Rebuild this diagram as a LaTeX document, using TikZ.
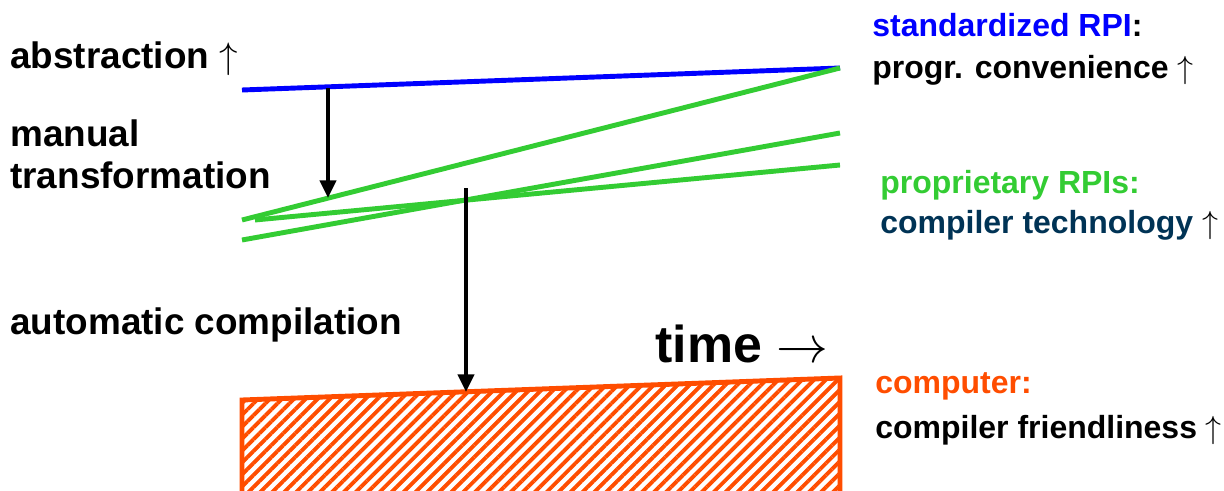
\RequirePackage{fix-cm}
\documentclass[tikz,border=0pt]{standalone}
\usepackage{fontspec}
\setmainfont{Liberation Sans}
\usetikzlibrary{arrows.meta,patterns.meta}
\definecolor{rpiblue}{RGB}{0,0,255}
\definecolor{rpigreen}{RGB}{51,204,51}
\definecolor{hwred}{RGB}{255,77,0}
\definecolor{technavy}{RGB}{0,51,85}
\begin{document}
\begin{tikzpicture}[
        txt/.style={anchor=base west, inner sep=0pt, font=\fontsize{21}{25}\selectfont\bfseries},
        side/.style={anchor=base west, inner sep=0pt, font=\fontsize{18.2}{22}\selectfont\bfseries},
        level/.style={line width=2.8pt},
        down/.style={line width=2.5pt, -{Triangle[length=10pt,width=9pt]}}
    ]
        \useasboundingbox (0,0) rectangle (24.48,9.8);

        \coordinate (std0) at (4.84,8.0);
        \coordinate (std1) at (16.8,8.44);
        \coordinate (pa0) at (4.84,5.4);
        \coordinate (pb0) at (4.84,5.0);
        \coordinate (pb1) at (16.8,7.14);
        \coordinate (pc0) at (5.1,5.4);
        \coordinate (pc1) at (16.8,6.5);
        \coordinate (man0) at (6.56,8.04);
        \coordinate (man1) at (6.56,5.84);
        \coordinate (cmp0) at (9.32,6.04);
        \coordinate (cmp1) at (9.32,1.96);

        \node[txt] (abs) at (0.2,8.44) {abstraction $\uparrow$};
        \node[txt] (man) at (0.2,6.88) {manual};
        \node[txt] (trf) at (0.2,6.04) {transformation};
        \node[txt] (auto) at (0.2,3.12) {automatic compilation};
        \node[anchor=base west, inner sep=0pt, font=\fontsize{29.5}{34}\selectfont\bfseries] (time) at (13.1,2.56) {time $\rightarrow$};

        \node[side] (std) at (17.44,9.08) {\textcolor{rpiblue}{standardized RPI}:};
        \node[side] (conv) at (17.44,8.24) {progr. convenience $\uparrow$};
        \node[side, rpigreen] (prop) at (17.6,5.94) {proprietary RPIs:};
        \node[side, technavy] (tech) at (17.6,5.14) {compiler technology \textcolor{black}{$\uparrow$}};
        \node[side, hwred] (hw) at (17.5,1.94) {computer:};
        \node[side] (frnd) at (17.5,1.04) {compiler friendliness $\uparrow$};

        % computer
        \path[pattern={Lines[angle=45,distance=4.8pt,line width=2.2pt]}, pattern color=hwred]
            (4.84,1.8) -- (16.8,2.24) -- (16.8,-0.2) -- (4.84,-0.2) -- cycle;
        \draw[hwred, line width=2.8pt] (4.84,-0.2) -- (4.84,1.8) -- (16.8,2.24) -- (16.8,-0.2);

        \draw[level, rpiblue] (std0) -- (std1);
        \draw[level, rpigreen] (pa0) -- (std1);
        \draw[level, rpigreen] (pb0) -- (pb1);
        \draw[level, rpigreen] (pc0) -- (pc1);

        \draw[down] (man0) -- (man1);
        \draw[down] (cmp0) -- (cmp1);
    \end{tikzpicture}
\end{document}
